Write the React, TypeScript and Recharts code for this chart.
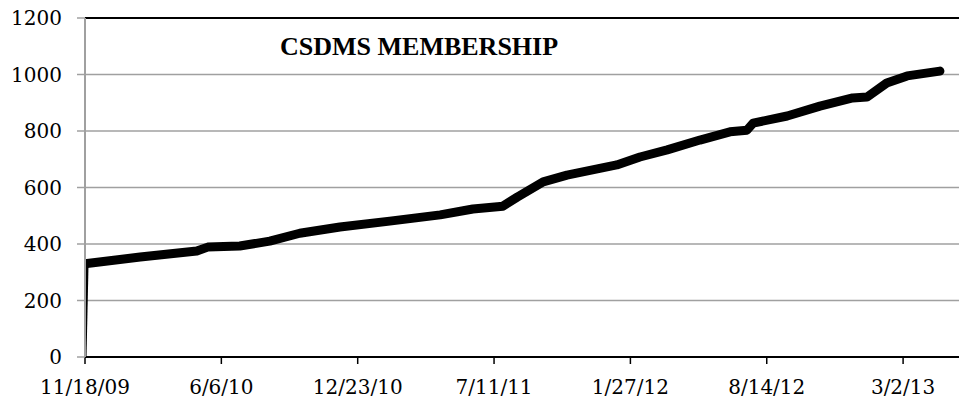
import {
  CartesianGrid,
  Line,
  LineChart,
  ReferenceLine,
  XAxis,
  YAxis,
} from "recharts";

// days since 11/18/09
const days = [
  0, 3, 81, 164, 180, 227, 271, 315, 374, 447, 521, 569, 613, 634, 672, 707,
  755, 780, 814, 854, 902, 946, 971, 980, 1030, 1078, 1126, 1147, 1176, 1206,
  1254,
];
const members = [
  0, 331, 354, 375, 389, 393, 410, 438, 460, 481, 503, 524, 534, 566, 620, 644,
  668, 680, 708, 733, 768, 797, 803, 828, 853, 888, 917, 920, 970, 995, 1012,
];

const xTicks = [0, 200, 400, 600, 800, 1000, 1200];
const xTickLabels = [
  "11/18/09",
  "6/6/10",
  "12/23/10",
  "7/11/11",
  "1/27/12",
  "8/14/12",
  "3/2/13",
];
const yTicks = [0, 200, 400, 600, 800, 1000, 1200];

const data = days.map((d, i) => ({
  day: d,
  thin: i < 2 ? members[i] : null,
  thick: i >= 1 ? members[i] : null,
}));

const font = "'DejaVu Serif', serif";

export default function App() {
  return (
    <div style={{ position: "absolute", left: 0, top: 0, width: 959, height: 400, background: "#fff" }}>
      <LineChart
        width={959}
        height={400}
        data={data}
        margin={{ top: 18, right: 0, left: 0, bottom: 0 }}
      >
        <CartesianGrid vertical={false} stroke="#a0a0a0" strokeWidth={1.5} />
        <XAxis
          dataKey="day"
          type="number"
          domain={[0, 1282]}
          ticks={xTicks}
          tickFormatter={(v: number) => xTickLabels[xTicks.indexOf(v)] ?? ""}
          height={43}
          tickSize={7}
          tickMargin={16}
          axisLine={{ stroke: "#000", strokeWidth: 2 }}
          tickLine={{ stroke: "#000", strokeWidth: 1.5 }}
          tick={{ fill: "#000", fontSize: 20, fontFamily: font }}
          allowDataOverflow
        />
        <YAxis
          domain={[0, 1200]}
          ticks={yTicks}
          width={85}
          tickSize={8}
          tickMargin={15}
          axisLine={{ stroke: "#a0a0a0", strokeWidth: 2 }}
          tickLine={{ stroke: "#a0a0a0", strokeWidth: 1.5 }}
          tick={{ fill: "#000", fontSize: 20, fontFamily: font }}
        />
        <ReferenceLine y={1200} stroke="#000" strokeWidth={2} />
        <Line
          dataKey="thin"
          stroke="#000"
          strokeWidth={3}
          dot={false}
          isAnimationActive={false}
        />
        <Line
          dataKey="thick"
          stroke="#000"
          strokeWidth={9}
          strokeLinecap="round"
          strokeLinejoin="round"
          dot={false}
          isAnimationActive={false}
        />
      </LineChart>
      <div
        style={{
          position: "absolute",
          left: 280,
          top: 34,
          fontFamily: "'Liberation Serif', serif",
          fontWeight: "bold",
          fontSize: 26,
          lineHeight: "26px",
          whiteSpace: "nowrap",
        }}
      >
        CSDMS MEMBERSHIP
      </div>
    </div>
  );
}
